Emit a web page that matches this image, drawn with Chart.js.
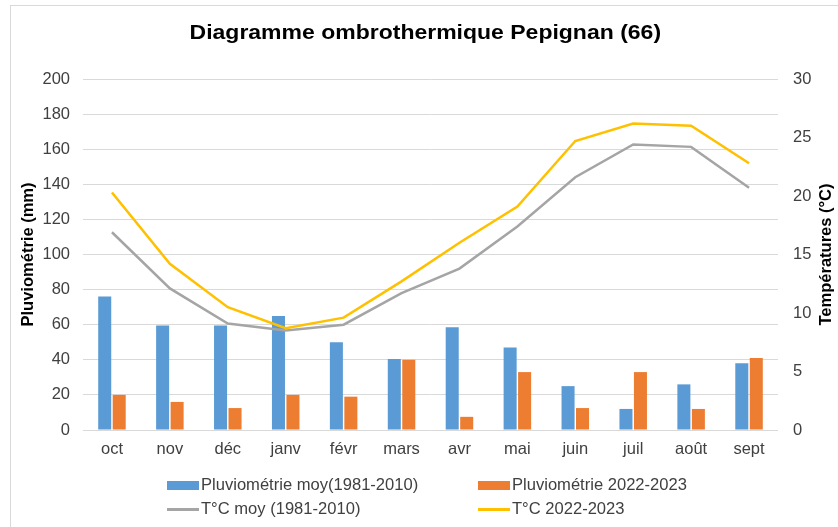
<!DOCTYPE html>
<html>
<head>
<meta charset="utf-8">
<script src="https://cdn.jsdelivr.net/npm/chart.js@4"></script>
<style>
  html, body { margin:0; padding:0; width:838px; height:527px; overflow:hidden; background:#fff; font-family:"Liberation Sans", Arial, sans-serif; }
  #frame { position:absolute; left:10px; top:5px; width:900px; height:600px; border:1px solid #d9d9d9; box-sizing:border-box; }
  #wrap { position:absolute; left:0; top:0; width:838px; height:527px; }
  #title { position:absolute; left:0; width:851px; top:19px; text-align:center; font-weight:bold; font-size:21px; line-height:26px; color:#000; white-space:nowrap; }
  #title span { display:inline-block; transform:scaleX(1.095); }
  .leg { position:absolute; font-size:16px; color:#404040; white-space:nowrap; line-height:20px; transform:scaleX(1.035); transform-origin:left center; }
  .sw { position:absolute; }
</style>
</head>
<body>
<div id="frame"></div>
<div id="wrap"><canvas id="c" width="838" height="527"></canvas></div>
<div id="title"><span>Diagramme ombrothermique Pepignan (66)</span></div>
<div id="legend"></div>
<script>
const categories = ["oct","nov","déc","janv","févr","mars","avr","mai","juin","juil","août","sept"];
const pluvioMoy = [76, 59.5, 59.5, 65, 50, 40.5, 58.5, 47, 25, 12, 26, 38];
const pluvio2223 = [20, 16, 12.5, 20, 19, 40, 7.5, 33, 12.5, 33, 12, 41];
const tempMoy = [16.9, 12.1, 9.1, 8.5, 9.0, 11.7, 13.8, 17.4, 21.6, 24.4, 24.2, 20.7];
const temp2223 = [20.3, 14.2, 10.5, 8.7, 9.6, 12.7, 16.0, 19.1, 24.7, 26.2, 26.0, 22.8];
const leftTicks = [0, 20, 40, 60, 80, 100, 120, 140, 160, 180, 200];
const rightTicks = [0, 5, 10, 15, 20, 25, 30];
const seriesNames = ["Pluviométrie moy(1981-2010)", "Pluviométrie 2022-2023", "T°C moy (1981-2010)", "T°C 2022-2023"];
const colors = ["#5B9BD5", "#ED7D31", "#A5A5A5", "#FFC000"];

const tickFont = { family: "Liberation Sans", size: 16.5 };
const tickColor = "#404040";

const rightTitlePlugin = {
  id: 'rightTitle',
  afterDraw(chart) {
    const ctx = chart.ctx;
    const area = chart.chartArea;
    ctx.save();
    ctx.font = "bold 16.5px 'Liberation Sans'";
    ctx.fillStyle = "#000";
    ctx.textAlign = "center";
    ctx.textBaseline = "middle";
    ctx.translate(826, (area.top + area.bottom) / 2);
    ctx.rotate(-Math.PI / 2);
    ctx.fillText("Températures (°C)", 0, 0);
    ctx.restore();
  }
};

new Chart(document.getElementById('c'), {
  data: {
    labels: categories,
    datasets: [
      { type: 'line', label: seriesNames[3], data: temp2223, yAxisID: 'yR', borderColor: colors[3], borderWidth: 2.5, pointRadius: 0, tension: 0, order: 0 },
      { type: 'line', label: seriesNames[2], data: tempMoy, yAxisID: 'yR', borderColor: colors[2], borderWidth: 2.5, pointRadius: 0, tension: 0, order: 1 },
      { type: 'bar', label: seriesNames[0], data: pluvioMoy, yAxisID: 'yL', backgroundColor: colors[0], categoryPercentage: 0.5, barPercentage: 0.9, order: 2 },
      { type: 'bar', label: seriesNames[1], data: pluvio2223, yAxisID: 'yL', backgroundColor: colors[1], categoryPercentage: 0.5, barPercentage: 0.9, order: 3 }
    ]
  },
  options: {
    responsive: false,
    animation: false,
    layout: { padding: { left: 0, right: 0, top: 79, bottom: 67 } },
    plugins: {
      legend: { display: false },
      tooltip: { enabled: false },
      title: { display: false }
    },
    scales: {
      x: {
        grid: { display: false, drawTicks: false },
        border: { display: false },
        ticks: { font: tickFont, color: tickColor, padding: 10 },
        afterFit(s) { s.height = 30; }
      },
      yL: {
        position: 'left',
        min: 0, max: 200,
        afterBuildTicks(s) { s.ticks = leftTicks.map(v => ({ value: v })); },
        grid: { color: "#d9d9d9", lineWidth: 1, drawTicks: false },
        border: { display: false },
        ticks: { font: tickFont, color: tickColor, padding: 13 },
        title: { display: true, text: "Pluviométrie (mm)", font: { family: "Liberation Sans", size: 16.5, weight: 'bold', lineHeight: 1.2 }, color: "#000", padding: { top: 19 } },
        afterFit(s) { s.width = 83; }
      },
      yR: {
        position: 'right',
        min: 0, max: 30,
        afterBuildTicks(s) { s.ticks = rightTicks.map(v => ({ value: v })); },
        grid: { display: false, drawTicks: false },
        border: { display: false },
        ticks: { font: tickFont, color: tickColor, padding: 15 },
        afterFit(s) { s.width = 60; }
      }
    }
  },
  plugins: [rightTitlePlugin]
});

// HTML legend (2 x 2 grid)
const legend = document.getElementById('legend');
const legPos = [
  { x: 167, y: 485, kind: 'bar', i: 0 },
  { x: 478, y: 485, kind: 'bar', i: 1 },
  { x: 167, y: 509, kind: 'line', i: 2 },
  { x: 478, y: 509, kind: 'line', i: 3 }
];
legPos.forEach(p => {
  const sw = document.createElement('div');
  sw.className = 'sw';
  const h = p.kind === 'bar' ? 9 : 3;
  sw.style.left = p.x + 'px';
  sw.style.top = (p.y - h / 2) + 'px';
  sw.style.width = '32px';
  sw.style.height = h + 'px';
  sw.style.background = colors[p.i];
  legend.appendChild(sw);
  const t = document.createElement('div');
  t.className = 'leg';
  t.style.left = (p.x + 34) + 'px';
  t.style.top = (p.y - 10) + 'px';
  t.textContent = seriesNames[p.i];
  legend.appendChild(t);
});
</script>
</body>
</html>
